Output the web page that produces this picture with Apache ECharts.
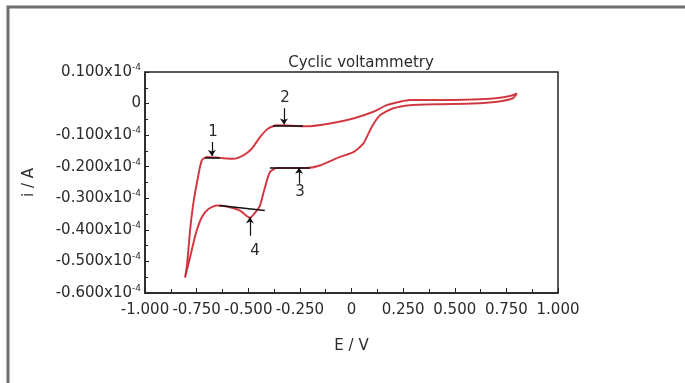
<!DOCTYPE html>
<html>
<head>
<meta charset="utf-8">
<script src="https://cdn.jsdelivr.net/npm/echarts@6/dist/echarts.min.js"></script>
<style>
  html, body { margin: 0; padding: 0; background: #ffffff; }
  #chart { width: 685px; height: 383px; }
</style>
</head>
<body>
<div id="chart"></div>
<script>
// Cyclic voltammogram. Potential E in V, current i in units of 1e-4 A.
// Cathodic sweep: from +0.80 V down to -0.81 V
const cathodicE = [0.801, 0.782, 0.705, 0.588, 0.429, 0.283, 0.202, 0.138, 0.098, 0.057, 0.009, -0.056, -0.153, -0.217, -0.290, -0.362, -0.395, -0.419, -0.443, -0.459, -0.492, -0.540, -0.604, -0.653, -0.693, -0.725, -0.753, -0.772, -0.790, -0.806];
const cathodicI = [0.032, 0.017, 0.006, 0.000, -0.002, -0.005, -0.015, -0.037, -0.074, -0.127, -0.154, -0.169, -0.196, -0.204, -0.204, -0.204, -0.217, -0.265, -0.323, -0.339, -0.362, -0.339, -0.326, -0.323, -0.334, -0.360, -0.409, -0.460, -0.509, -0.551];
// Anodic return sweep: from -0.81 V back up to +0.80 V
const anodicE = [-0.806, -0.797, -0.782, -0.766, -0.742, -0.725, -0.701, -0.637, -0.572, -0.524, -0.483, -0.443, -0.403, -0.362, -0.290, -0.217, -0.104, 0.009, 0.106, 0.170, 0.235, 0.283, 0.443, 0.588, 0.685, 0.768, 0.801];
const anodicI = [-0.551, -0.514, -0.403, -0.317, -0.228, -0.180, -0.169, -0.172, -0.175, -0.164, -0.143, -0.106, -0.079, -0.069, -0.070, -0.072, -0.063, -0.047, -0.026, -0.005, 0.006, 0.011, 0.011, 0.013, 0.016, 0.024, 0.032];

// Peak markers 1-4: arrow position, arrow tail/tip currents, label position, baseline segment
const peakNames = ['1', '2', '3', '4'];
const peakE = [-0.676, -0.327, -0.254, -0.492];
const arrowTailI = [-0.122, -0.015, -0.254, -0.419];
const arrowTipI = [-0.166, -0.066, -0.203, -0.360];
const labelE = [-0.670, -0.322, -0.249, -0.467];
const labelI = [-0.090, 0.016, -0.281, -0.466];
const baseStartE = [-0.709, -0.380, -0.395, -0.640];
const baseEndE = [-0.637, -0.235, -0.201, -0.420];
const baseStartI = [-0.172, -0.070, -0.203, -0.323];
const baseEndI = [-0.172, -0.070, -0.203, -0.339];

const FONT = 'DejaVu Sans';
const TEXT = '#2b2b2b';

const sweep = cathodicE.map((e, k) => [e, cathodicI[k]])
  .concat(anodicE.map((e, k) => [e, anodicI[k]]));

function fmtY(v) {
  if (Math.abs(v) < 1e-9) return '{n|0}';
  return '{n|' + v.toFixed(3) + 'x10}{s|-4}';
}
function fmtX(v) {
  if (Math.abs(v) < 1e-9) return '0';
  return v.toFixed(3);
}

const chart = echarts.init(document.getElementById('chart'), null, { renderer: 'canvas' });
chart.setOption({
  animation: false,
  backgroundColor: '#ffffff',
  title: {
    text: 'Cyclic voltammetry',
    left: 356, top: 51, textAlign: 'center',
    textStyle: { fontFamily: FONT, fontSize: 15, fontWeight: 'normal', color: TEXT }
  },
  graphic: [{
    type: 'rect',
    shape: { x: 8, y: 7, width: 720, height: 420 },
    style: { fill: 'none', stroke: '#6e6e6e', lineWidth: 3 },
    silent: true
  }],
  grid: {
    left: 145, right: 127, top: 72, bottom: 90,
    show: true, borderColor: '#222', borderWidth: 1.5, backgroundColor: 'transparent'
  },
  xAxis: {
    type: 'value', min: -1, max: 1, interval: 0.25,
    name: 'E / V', nameLocation: 'middle', nameGap: 46,
    nameTextStyle: { fontFamily: FONT, fontSize: 15, color: TEXT },
    axisLine: { onZero: false, lineStyle: { color: '#222', width: 1.5 } },
    axisTick: { inside: true, length: 5, lineStyle: { color: '#222' } },
    minorTick: { show: true, splitNumber: 2, length: 4, lineStyle: { color: '#222' } },
    splitLine: { show: false },
    axisLabel: { formatter: fmtX, margin: 10, fontFamily: FONT, fontSize: 15, color: TEXT }
  },
  yAxis: {
    type: 'value', min: -0.6, max: 0.1, interval: 0.1,
    name: 'i / A', nameLocation: 'middle', nameGap: 108, nameRotate: 90,
    nameTextStyle: { fontFamily: FONT, fontSize: 15, color: TEXT },
    axisLine: { onZero: false, lineStyle: { color: '#222', width: 1.5 } },
    axisTick: { inside: true, length: 4, lineStyle: { color: '#222' } },
    minorTick: { show: true, splitNumber: 2, length: 3, lineStyle: { color: '#222' } },
    splitLine: { show: false },
    axisLabel: {
      formatter: fmtY, margin: 4,
      rich: {
        n: { fontFamily: FONT, fontSize: 15, color: TEXT, lineHeight: 18 },
        s: { fontFamily: FONT, fontSize: 9, color: TEXT, lineHeight: 18, verticalAlign: 'top', padding: [0, 0, 9, 0] }
      }
    }
  },
  series: [
    {
      type: 'line', data: sweep, showSymbol: false, smooth: 0.2,
      lineStyle: { color: '#e8424c', width: 2 }, z: 2
    },
    {
      type: 'line', data: sweep, showSymbol: false, smooth: 0.2,
      lineStyle: { color: '#5c1a24', width: 1, type: 'dotted', opacity: 0.6 }, z: 3
    },
    {
      type: 'lines', coordinateSystem: 'cartesian2d', z: 4,
      data: peakE.map((e, k) => ({ coords: [[baseStartE[k], baseStartI[k]], [baseEndE[k], baseEndI[k]]] })),
      lineStyle: { color: '#111', width: 1.5, opacity: 1 }
    },
    {
      type: 'lines', coordinateSystem: 'cartesian2d', z: 5,
      symbol: ['none', 'arrow'], symbolSize: 6,
      data: peakE.map((e, k) => ({ coords: [[e, arrowTailI[k]], [e, arrowTipI[k]]] })),
      lineStyle: { color: '#111', width: 1.2, opacity: 1 }
    },
    {
      type: 'scatter', z: 6, symbolSize: 0,
      itemStyle: { opacity: 1 },
      data: peakNames.map((n, k) => [labelE[k], labelI[k], n]),
      label: {
        show: true, position: 'inside', formatter: p => p.value[2],
        fontFamily: FONT, fontSize: 15, color: TEXT, opacity: 1
      }
    }
  ]
});
</script>
</body>
</html>
